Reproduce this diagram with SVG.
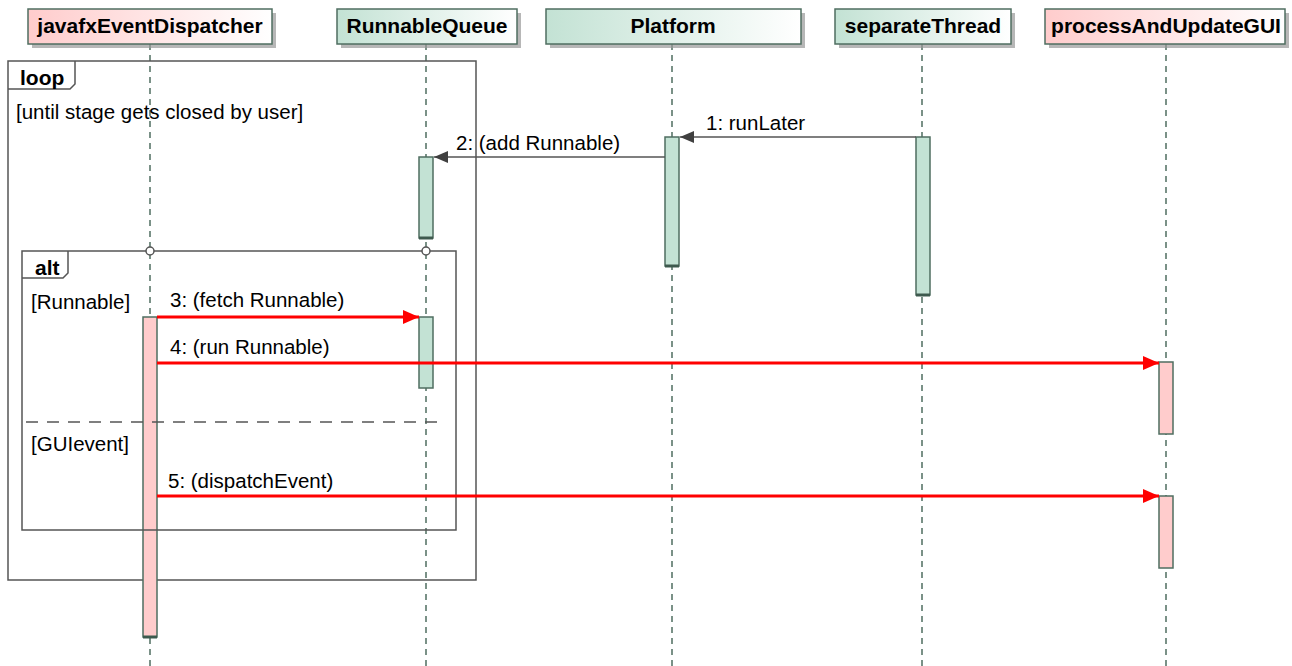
<svg xmlns="http://www.w3.org/2000/svg" width="1292" height="666" viewBox="0 0 1292 666">
<style>
text{font-family:"Liberation Sans",Arial,sans-serif;font-size:20.5px;fill:#000}
.b{font-weight:bold;font-size:21px}
.life{stroke:#4F6E60;stroke-width:1.5;stroke-dasharray:6 5;fill:none}
.pbox{stroke:#4F6E60;stroke-width:1.5}
.shadow{fill:#999;opacity:0.7}
.actg{fill:#C3E2D4;stroke:#4F6E60;stroke-width:1.5}
.actp{fill:#FFCCCC;stroke:#4F6E60;stroke-width:1.5}
.frame{fill:none;stroke:#555;stroke-width:1.5}
.msg{stroke:#555;stroke-width:1.5;fill:none}
.red{stroke:#FF0000;stroke-width:3;fill:none}
</style>
<defs>
<linearGradient id="gp" x1="0" y1="0" x2="1" y2="0"><stop offset="0" stop-color="#FFCCCC"/><stop offset="1" stop-color="#FFFFFF"/></linearGradient>
<linearGradient id="gg" x1="0" y1="0" x2="1" y2="0"><stop offset="0" stop-color="#C3E2D4"/><stop offset="1" stop-color="#FFFFFF"/></linearGradient>
<marker id="ag" markerWidth="14" markerHeight="12" refX="14" refY="6" orient="auto" markerUnits="userSpaceOnUse"><path d="M0,0 L14,6 L0,12 Z" fill="#404040"/></marker>
<marker id="ar" markerWidth="16" markerHeight="14" refX="16" refY="7" orient="auto" markerUnits="userSpaceOnUse"><path d="M0,0 L16,7 L0,14 Z" fill="#FF0000"/></marker>
</defs>
<rect width="1292" height="666" fill="#fff"/>

<!-- lifelines -->
<g id="lifelines">
<line class="life" x1="150" y1="44" x2="150" y2="666"/>
<line class="life" x1="426" y1="44" x2="426" y2="666"/>
<line class="life" x1="672" y1="44" x2="672" y2="666"/>
<line class="life" x1="922" y1="44" x2="922" y2="666"/>
<line class="life" x1="1166" y1="44" x2="1166" y2="666"/>
</g>

<!-- participants -->
<g id="javafxEventDispatcher">
<rect class="shadow" x="32" y="13" width="244" height="35"/>
<rect class="pbox" x="28" y="9" width="244" height="35" fill="url(#gp)"/>
<text class="b" x="150" y="33" text-anchor="middle">javafxEventDispatcher</text>
</g>
<g id="RunnableQueue">
<rect class="shadow" x="341" y="13" width="180" height="35"/>
<rect class="pbox" x="337" y="9" width="180" height="35" fill="url(#gg)"/>
<text class="b" x="427" y="33" text-anchor="middle">RunnableQueue</text>
</g>
<g id="Platform">
<rect class="shadow" x="550" y="13" width="255" height="35"/>
<rect class="pbox" x="546" y="9" width="255" height="35" fill="url(#gg)"/>
<text class="b" x="673" y="33" text-anchor="middle">Platform</text>
</g>
<g id="separateThread">
<rect class="shadow" x="839" y="13" width="176" height="35"/>
<rect class="pbox" x="835" y="9" width="176" height="35" fill="url(#gg)"/>
<text class="b" x="923" y="33" text-anchor="middle">separateThread</text>
</g>
<g id="processAndUpdateGUI">
<rect class="shadow" x="1049" y="13" width="240" height="35"/>
<rect class="pbox" x="1045" y="9" width="240" height="35" fill="url(#gp)"/>
<text class="b" x="1166" y="33" text-anchor="middle">processAndUpdateGUI</text>
</g>

<!-- loop frame -->
<g id="loop">
<rect class="frame" x="8" y="61" width="468" height="519"/>
<path class="frame" d="M8,89 H70 L75,84 V61" fill="#fff"/>
<text class="b" x="20" y="85">loop</text>
<text x="16" y="119">[until stage gets closed by user]</text>
</g>

<!-- activations -->
<g id="activations">
<rect class="actg" x="419" y="157" width="14" height="81"/>
<line x1="419" y1="238" x2="433" y2="238" stroke="#3E5A4E" stroke-width="3"/>
<rect class="actg" x="665" y="137" width="14" height="129"/>
<line x1="665" y1="266" x2="679" y2="266" stroke="#3E5A4E" stroke-width="3"/>
<rect class="actg" x="916" y="137" width="14" height="158"/>
<line x1="916" y1="295" x2="930" y2="295" stroke="#3E5A4E" stroke-width="3"/>
<rect class="actp" x="143" y="317" width="14" height="320"/>
<line x1="143" y1="637" x2="157" y2="637" stroke="#3E5A4E" stroke-width="3"/>
<rect class="actg" x="419" y="317" width="14" height="71"/>
<rect class="actp" x="1159" y="362" width="14" height="72"/>
<rect class="actp" x="1159" y="496" width="14" height="72"/>
</g>

<!-- alt frame -->
<g id="alt">
<rect class="frame" x="22" y="251" width="434" height="279"/>
<path class="frame" d="M22,278 H63 L68,273 V251" fill="#fff"/>
<text class="b" x="35" y="275">alt</text>
<circle cx="150" cy="251" r="4" fill="#fff" stroke="#555" stroke-width="1.5"/>
<circle cx="426" cy="251" r="4" fill="#fff" stroke="#555" stroke-width="1.5"/>
<text x="31" y="309">[Runnable]</text>
<line x1="26" y1="422" x2="440" y2="422" stroke="#555" stroke-width="1.5" stroke-dasharray="12 9"/>
<text x="31" y="451">[GUIevent]</text>
</g>

<!-- connectors -->
<g id="connectors">
<line class="msg" x1="916" y1="137" x2="680" y2="137" marker-end="url(#ag)"/>
<text x="706" y="130">1: runLater</text>
<line class="msg" x1="665" y1="157" x2="434" y2="157" marker-end="url(#ag)"/>
<text x="456" y="150">2: (add Runnable)</text>
<line class="red" x1="157" y1="317" x2="419" y2="317" marker-end="url(#ar)"/>
<text x="170" y="307">3: (fetch Runnable)</text>
<line class="red" x1="157" y1="363" x2="1159" y2="363" marker-end="url(#ar)"/>
<text x="170" y="354">4: (run Runnable)</text>
<line class="red" x1="157" y1="496" x2="1159" y2="496" marker-end="url(#ar)"/>
<text x="168" y="488">5: (dispatchEvent)</text>
</g>
</svg>
